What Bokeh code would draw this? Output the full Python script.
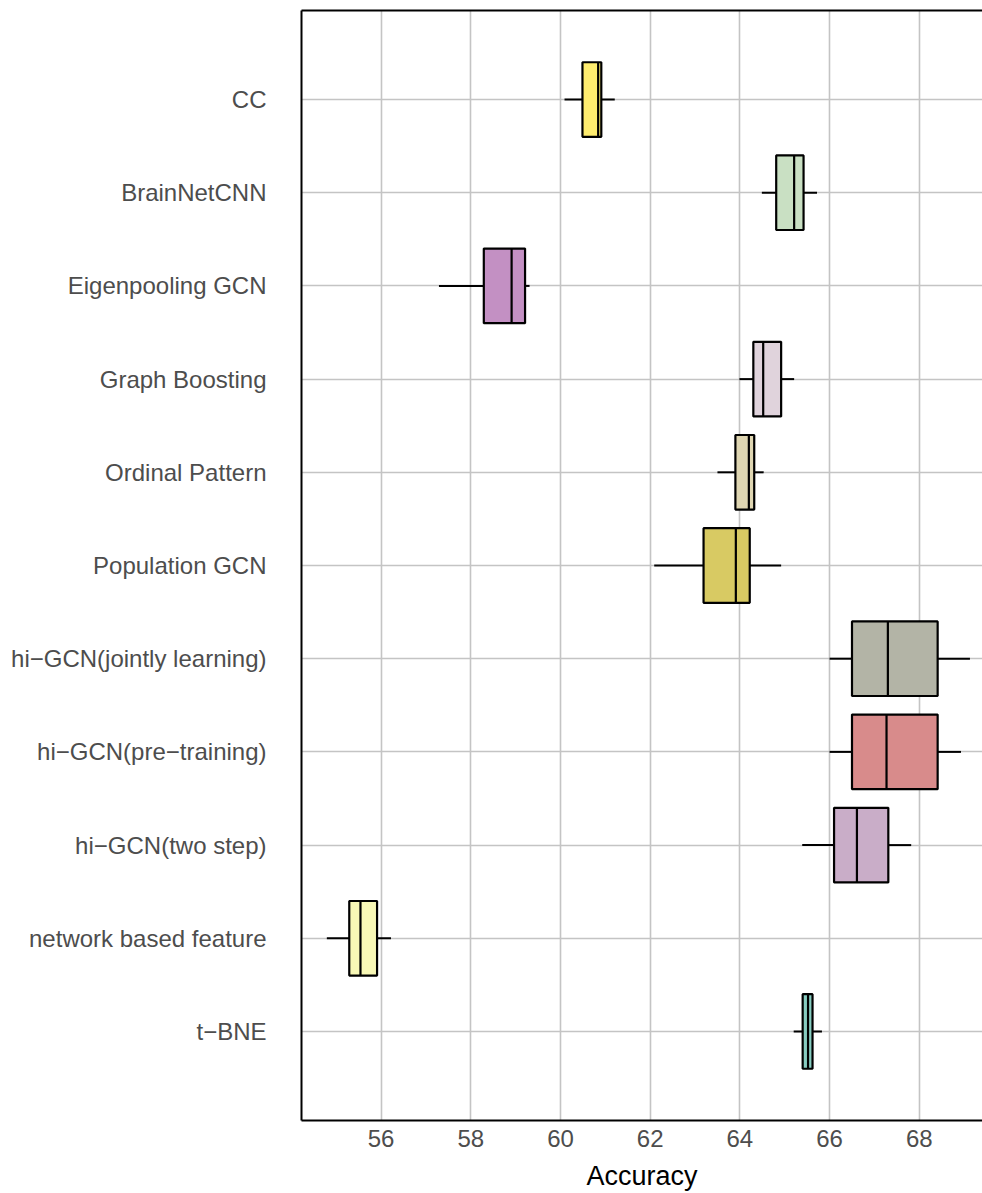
from bokeh.plotting import figure
from bokeh.models import ColumnDataSource, FactorRange, Range1d, FixedTicker, LinearAxis
from bokeh.embed import file_html
from bokeh.resources import INLINE

categories = ["CC", "BrainNetCNN", "Eigenpooling GCN", "Graph Boosting", "Ordinal Pattern",
              "Population GCN", "hi\u2212GCN(jointly learning)", "hi\u2212GCN(pre\u2212training)",
              "hi\u2212GCN(two step)", "network based feature", "t\u2212BNE"]
lower = [60.09, 64.49, 57.29, 63.99, 63.50, 62.09, 66.00, 66.00, 65.39, 54.79, 65.20]
q1 = [60.49, 64.81, 58.29, 64.30, 63.90, 63.19, 66.50, 66.50, 66.10, 55.29, 65.40]
median = [60.84, 65.21, 58.91, 64.52, 64.20, 63.91, 67.30, 67.27, 66.61, 55.54, 65.52]
q3 = [60.91, 65.42, 59.21, 64.92, 64.32, 64.22, 68.41, 68.41, 67.31, 55.91, 65.62]
upper = [61.21, 65.72, 59.31, 65.21, 64.53, 64.92, 69.13, 68.93, 67.82, 56.22, 65.83]
colors = ["#FFED6F", "#C9E0C3", "#C390C3", "#E0D3DC", "#DFD6B2", "#D8CA63",
          "#B3B4A6", "#D88B8B", "#C9ADC8", "#F8F8B6", "#87CCC0"]
x_ticks = [56, 58, 60, 62, 64, 66, 68]

src = ColumnDataSource(dict(cat=categories, lower=lower, q1=q1, med=median, q3=q3,
                            upper=upper, color=colors))

y_range = FactorRange(factors=list(reversed(categories)), range_padding=0.455,
                      range_padding_units="absolute")
p = figure(width=982, height=1193, y_range=y_range, x_range=Range1d(54.225, 69.41),
           output_backend="svg", toolbar_location=None,
           min_border_left=301, min_border_right=0, min_border_top=10, min_border_bottom=73)
p.outline_line_color = None
p.background_fill_color = "white"

# whiskers
p.segment(x0="lower", x1="q1", y0="cat", y1="cat", source=src, line_color="black", line_width=2)
p.segment(x0="q3", x1="upper", y0="cat", y1="cat", source=src, line_color="black", line_width=2)
# boxes
p.hbar(y="cat", left="q1", right="q3", height=0.8, source=src, fill_color="color",
       line_color="black", line_width=2.2)
# medians
p.hbar(y="cat", left="med", right="med", height=0.8, source=src, fill_color=None,
       line_color="black", line_width=2.2)

font = "Liberation Sans"
p.xaxis.ticker = FixedTicker(ticks=x_ticks)
p.xaxis.axis_label = "Accuracy"
p.xaxis.axis_label_text_font = font
p.xaxis.axis_label_text_font_size = "27px"
p.xaxis.axis_label_text_font_style = "normal"
p.xaxis.axis_label_text_color = "black"
p.xaxis.axis_label_standoff = 11
p.xaxis.major_label_text_font = font
p.xaxis.major_label_text_font_size = "24px"
p.xaxis.major_label_text_color = "#4D4D4D"
p.xaxis.major_label_standoff = 3

p.yaxis.major_label_text_font = font
p.yaxis.major_label_text_font_size = "24px"
p.yaxis.major_label_text_color = "#4D4D4D"
p.yaxis.major_label_standoff = 29

for ax in (p.xaxis, p.yaxis):
    ax.major_tick_line_color = None
    ax.minor_tick_line_color = None
    ax.axis_line_color = "black"
    ax.axis_line_width = 2

top = LinearAxis(ticker=FixedTicker(ticks=[]), major_tick_line_color=None,
                 minor_tick_line_color=None, major_label_text_font_size="0px",
                 axis_line_color="black", axis_line_width=2, major_label_standoff=0)
p.add_layout(top, "above")

p.xgrid.ticker = FixedTicker(ticks=x_ticks)
p.xgrid.grid_line_color = "#C4C4C4"
p.xgrid.grid_line_width = 1.6
p.ygrid.grid_line_color = "#C4C4C4"
p.ygrid.grid_line_width = 1.6

open("out.html", "w").write(file_html(p, INLINE))
